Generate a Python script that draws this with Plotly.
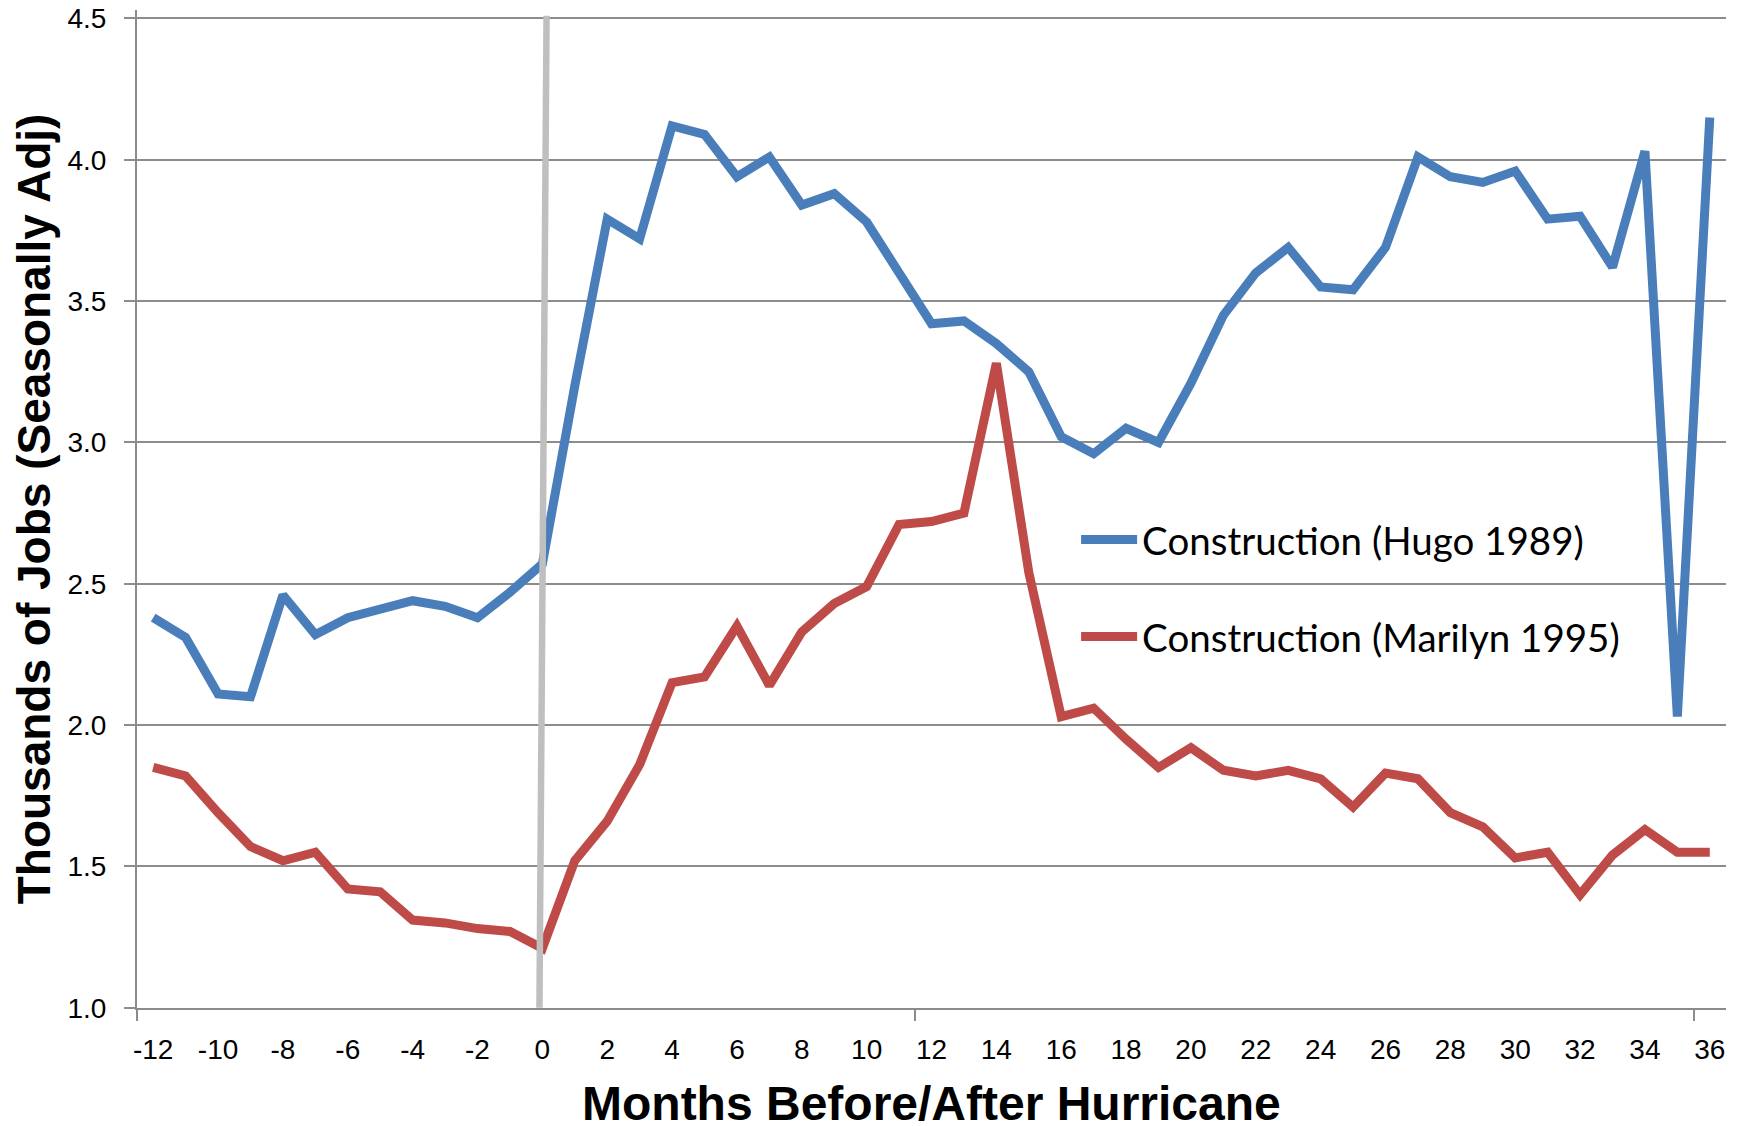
"""Construction jobs before/after hurricanes Hugo (1989) and Marilyn (1995)."""

import plotly.graph_objects as go

# ── Data ──────────────────────────────────────────────────────────────
months = list(range(-12, 37))

hugo_1989 = [
    2.38, 2.31, 2.11, 2.10, 2.46, 2.32, 2.38, 2.41, 2.44, 2.42, 2.38, 2.47,
    2.57, 3.20, 3.79, 3.72, 4.12, 4.09, 3.94, 4.01, 3.84, 3.88, 3.78, 3.60,
    3.42, 3.43, 3.35, 3.25, 3.02, 2.96, 3.05, 3.00, 3.21, 3.45, 3.60, 3.69,
    3.55, 3.54, 3.69, 4.01, 3.94, 3.92, 3.96, 3.79, 3.80, 3.62, 4.03, 2.03,
    4.15,
]

marilyn_1995 = [
    1.85, 1.82, 1.69, 1.57, 1.52, 1.55, 1.42, 1.41, 1.31, 1.30, 1.28, 1.27,
    1.21, 1.52, 1.66, 1.86, 2.15, 2.17, 2.35, 2.14, 2.33, 2.43, 2.49, 2.71,
    2.72, 2.75, 3.28, 2.54, 2.03, 2.06, 1.95, 1.85, 1.92, 1.84, 1.82, 1.84,
    1.81, 1.71, 1.83, 1.81, 1.69, 1.64, 1.53, 1.55, 1.40, 1.54, 1.63, 1.55,
    1.55,
]

# hurricane landfall marker (slightly slanted in the original)
event_x = [-0.09, 0.13]
event_y = [1.0, 4.51]

x_ticks = list(range(-12, 37, 2))
y_ticks = [1.0, 1.5, 2.0, 2.5, 3.0, 3.5, 4.0, 4.5]

BLUE = "#4a7ebb"
RED = "#be4b48"
GRID = "#8c8c8c"
SANS = "Liberation Sans, Arial, sans-serif"

fig = go.Figure()

fig.add_trace(go.Scatter(
    x=months, y=hugo_1989, mode="lines", name="Construction (Hugo 1989)",
    legendgroup="hugo", line=dict(color=BLUE, width=9),
))
fig.add_trace(go.Scatter(
    x=months, y=marilyn_1995, mode="lines", name="Construction (Marilyn 1995)",
    legendgroup="marilyn", line=dict(color=RED, width=9),
))
fig.add_trace(go.Scatter(
    x=event_x, y=event_y, mode="lines", showlegend=False, hoverinfo="skip",
    line=dict(color="#bfbfbf", width=6.5),
))

fig.update_xaxes(
    range=[-12.5, 36.5],
    tickmode="array", tickvals=x_ticks, ticktext=[str(v) for v in x_ticks],
    ticks="", showgrid=False, zeroline=False,
    showline=True, linecolor=GRID, linewidth=2,
    tickfont=dict(family=SANS, size=28, color="#000000"),
    ticklabelstandoff=15,
    minor=dict(tickmode="array", tickvals=[-12.5, 11.5, 35.5], ticks="outside",
               ticklen=11, tickwidth=1.5, tickcolor=GRID, showgrid=False),
)

# the top of the range is padded a little so the 4.5 gridline and label stay drawn
fig.update_yaxes(
    range=[0.999, 4.53],
    tickmode="array", tickvals=y_ticks, ticktext=[f"{v:.1f}" for v in y_ticks],
    ticks="outside", ticklen=11, tickwidth=1.5, tickcolor=GRID,
    ticklabelstandoff=12, ticklabeloverflow="allow",
    showgrid=True, gridcolor=GRID, gridwidth=2, zeroline=False,
    showline=True, linecolor=GRID, linewidth=2,
    tickfont=dict(family=SANS, size=28, color="#000000"),
    title=dict(text="<b>Thousands of Jobs (Seasonally Adj)</b>", standoff=8,
               font=dict(family=SANS, size=46, color="#000000")),
)

# x title as an annotation: the axis title can't sit this low inside a fixed margin
fig.add_annotation(
    text="<b>Months Before/After Hurricane</b>",
    xref="paper", yref="paper", x=0.5, y=-0.0955,
    xanchor="center", yanchor="middle", showarrow=False,
    font=dict(family=SANS, size=48, color="#000000"),
)

# the page body keeps its default 8px margin, so the figure is offset by 8px
fig.update_layout(
    width=1736, height=1126,
    margin=dict(l=129, r=18, t=2, b=126, autoexpand=False),
    plot_bgcolor="#ffffff", paper_bgcolor="#ffffff",
    showlegend=True,
    legend=dict(
        x=0.591, y=0.501, xanchor="left", yanchor="top",
        bgcolor="rgba(0,0,0,0)", borderwidth=0,
        font=dict(family="Lato, Carlito, sans-serif", size=38.5, color="#000000"),
        tracegroupgap=44, itemwidth=56,
    ),
)

fig.write_html("out.html")
